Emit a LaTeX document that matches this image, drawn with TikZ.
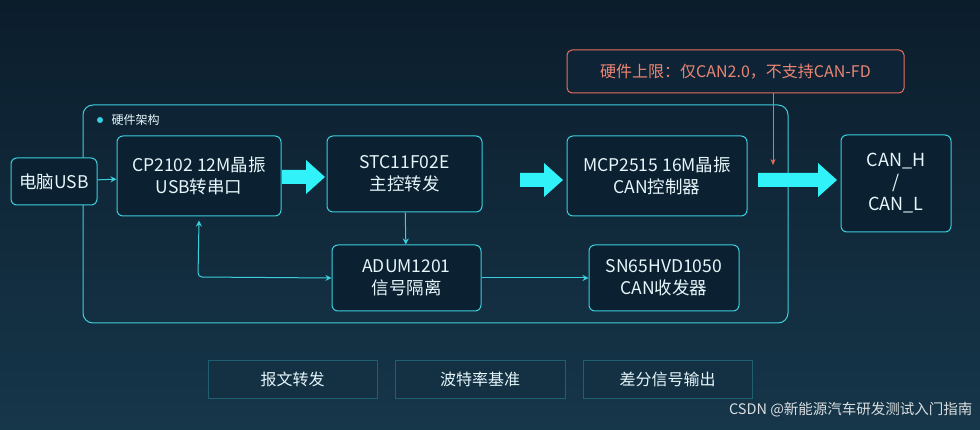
\documentclass[tikz,border=0pt]{standalone}
\usepackage{fontspec}
\setmainfont{Noto Sans CJK SC}
\usetikzlibrary{arrows.meta}
\definecolor{bg}{HTML}{0E2436}
\definecolor{bgl}{HTML}{16364A}
\definecolor{cy}{HTML}{3CCFDD}
\definecolor{bcy}{HTML}{30F2F8}
\definecolor{boxf}{HTML}{0B2030}
\definecolor{tx}{HTML}{E6F6FA}
\definecolor{rd}{HTML}{E8705A}
\begin{document}
\begin{tikzpicture}[x=1pt,y=-1pt,
 box/.style={draw=cy,line width=1pt,rounded corners=6pt,fill=boxf,text=tx,font=\fontsize{17.5}{22}\selectfont,align=center,inner sep=0pt},
 bot/.style={draw=cy!35!bg,line width=0.8pt,fill=bgl!70!bg,text=tx,font=\fontsize{16}{18}\selectfont,inner sep=0pt},
 thin/.style={draw=cy,line width=1pt,-{Stealth[length=6pt,width=6pt]}},
 big/.style={fill=bcy,draw=none}]
\useasboundingbox (0,0) rectangle (980,430);
\shade[top color=bg!80!black,bottom color=bgl] (0,0) rectangle (980,430);
\node[draw=cy,line width=1pt,rounded corners=10pt,minimum width=705pt,minimum height=218pt,inner sep=0pt] (outer) at (435.5,214) {};
\fill[cy] (100,120) circle (3pt);
\node[text=tx,font=\fontsize{12}{14}\selectfont,anchor=west] (lbl) at (108,120) {硬件架构};
\node[box,minimum width=86pt,minimum height=47pt] (pc) at (54,181.5) {电脑USB};
\node[box,minimum width=164pt,minimum height=80pt] (cp) at (199,176) {CP2102 12M晶振\\USB转串口};
\node[box,minimum width=155pt,minimum height=76pt] (stc) at (404.5,174) {STC11F02E\\主控转发};
\node[box,minimum width=149pt,minimum height=66pt] (adum) at (406.5,278) {ADUM1201\\信号隔离};
\node[box,minimum width=180pt,minimum height=80pt] (mcp) at (657,176) {MCP2515 16M晶振\\CAN控制器};
\node[box,minimum width=150pt,minimum height=66pt] (sn) at (664,278) {SN65HVD1050\\CAN收发器};
\node[box,minimum width=110pt,minimum height=97pt,font=\fontsize{18}{22}\selectfont] (can) at (896,183.5) {CAN\_H\\/\\CAN\_L};
\node[draw=rd,line width=1pt,rounded corners=5pt,fill=bg,text=rd!85!white,minimum width=337pt,minimum height=43pt,inner sep=0pt,font=\fontsize{16}{18}\selectfont] (note) at (735.5,71.5) {硬件上限：仅CAN2.0，不支持CAN-FD};
\coordinate (na) at (773,165);
\draw[rd,line width=0.8pt,-{Stealth[length=6pt,width=5pt]}] (note.south -| na) -- (na);
\foreach \a/\b/\y in {282/325/177,520/563/180,758/837/180}{
 \fill[big] (\a,\y-7) -- (\b-19,\y-7) -- (\b-19,\y-17) -- (\b,\y) -- (\b-19,\y+17) -- (\b-19,\y+7) -- (\a,\y+7) -- cycle;}
\draw[thin] (pc) -- (cp);
\draw[thin] (stc) -- (adum);
\draw[thin] (adum) -- (sn);
\draw[draw=cy,line width=1pt,{Stealth[length=6pt,width=6pt]}-{Stealth[length=6pt,width=6pt]},rounded corners=4pt] (cp.south) ++(0,4) -- (198,277) -- (adum.west);
\node[bot,minimum width=169pt,minimum height=38pt] (b1) at (292.5,379) {报文转发};
\node[bot,minimum width=170pt,minimum height=38pt] (b2) at (480,379) {波特率基准};
\node[bot,minimum width=169pt,minimum height=38pt] (b3) at (667.5,379) {差分信号输出};
\node[text=white!85!bg,font=\fontsize{14.5}{16}\selectfont,anchor=east] (wm) at (976,410) {CSDN @新能源汽车研发测试入门指南};
\end{tikzpicture}
\end{document}
